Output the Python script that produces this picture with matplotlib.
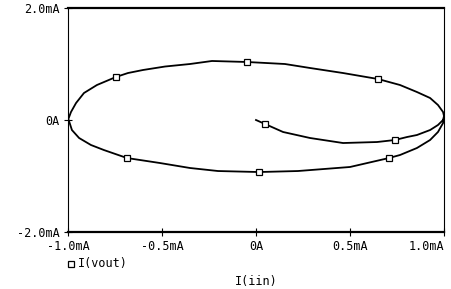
import matplotlib.pyplot as plt
from matplotlib.lines import Line2D

# I(iin) in mA (starts at origin, spirals out to the loop)
iin = [0.0, 0.048, 0.144, 0.287, 0.463, 0.644, 0.739, 0.803, 0.856, 0.926,
       0.968, 0.995, 1.0,
       0.995, 0.968, 0.926, 0.856, 0.766, 0.649, 0.463, 0.287, 0.154,
       -0.048, -0.234, -0.351, -0.484, -0.601, -0.681, -0.745, -0.846,
       -0.915, -0.957, -0.984, -0.998,
       -0.979, -0.941, -0.878, -0.809, -0.686, -0.511, -0.351, -0.202,
       0.016, 0.223, 0.5, 0.707, 0.766, 0.856, 0.926, 0.968, 0.995, 1.0]
# I(vout) in mA
ivout = [0.0, -0.071, -0.214, -0.321, -0.411, -0.393, -0.357, -0.304, -0.268, -0.179,
         -0.089, 0.0, 0.071,
         0.143, 0.268, 0.393, 0.5, 0.625, 0.732, 0.839, 0.929, 1.0,
         1.036, 1.054, 1.0, 0.955, 0.893, 0.839, 0.768, 0.625,
         0.482, 0.304, 0.143, 0.018,
         -0.179, -0.321, -0.446, -0.536, -0.679, -0.768, -0.857, -0.911,
         -0.929, -0.911, -0.839, -0.679, -0.625, -0.5, -0.357, -0.214, -0.054, 0.036]
marker_idx = [1, 6, 18, 22, 28, 38, 42, 45]

xticks = [-1.0, -0.5, 0.0, 0.5, 1.0]
xlabels = ['-1.0mA', '-0.5mA', '0A', '0.5mA', '1.0mA']
yticks = [-2.0, 0.0, 2.0]
ylabels = ['-2.0mA', '0A', '2.0mA']

plt.rcParams['font.family'] = 'DejaVu Sans Mono'
plt.rcParams['font.size'] = 8.5

fig = plt.figure(figsize=(4.52, 2.89), dpi=100)
ax = fig.add_axes([0.1504, 0.1972, 0.8319, 0.7751])

ax.plot(iin, ivout, color='black', lw=1.3, marker='s', markevery=marker_idx,
        markersize=4.5, markerfacecolor='white', markeredgecolor='black',
        markeredgewidth=0.9)

ax.set_xlim(-1.0, 1.0)
ax.set_ylim(-2.0, 2.0)
ax.set_xticks(xticks)
ax.set_xticklabels(xlabels)
ax.set_yticks(yticks)
ax.set_yticklabels(ylabels)
ax.tick_params(direction='inout', length=6, width=0.8, color='black', pad=3)
ax.get_xticklabels()[-1].set_horizontalalignment('right')
ax.get_xticklabels()[-1].set_x(0.995)

for side in ['top', 'bottom']:
    ax.spines[side].set_linewidth(1.6)
for side in ['left', 'right']:
    ax.spines[side].set_linewidth(0.8)

# legend entry and x label, placed like the original
fig.add_artist(Line2D([71 / 452], [1 - 264 / 289], marker='s', markersize=4.5,
                      markerfacecolor='white', markeredgecolor='black',
                      markeredgewidth=0.9, transform=fig.transFigure))
fig.text(78 / 452, 1 - 264 / 289, 'I(vout)', ha='left', va='center')
fig.text(256 / 452, 1 - 281 / 289, 'I(iin)', ha='center', va='center')

fig.savefig('out.png', dpi=100)
